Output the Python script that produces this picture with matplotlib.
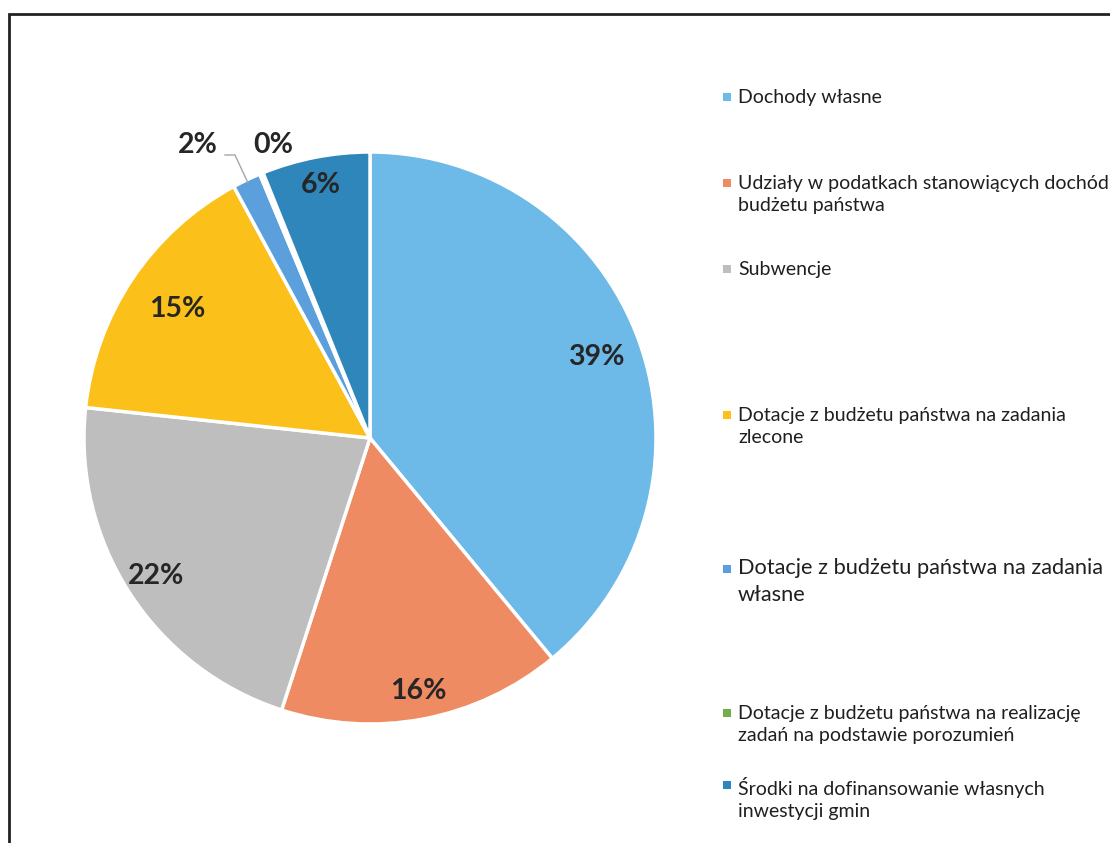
import numpy as np
import matplotlib
matplotlib.use("Agg")
import matplotlib.pyplot as plt
from matplotlib.patches import Rectangle

plt.rcParams["font.family"] = ["Lato", "DejaVu Sans"]

categories = [
    "Dochody własne",
    "Udziały w podatkach stanowiących dochód\nbudżetu państwa",
    "Subwencje",
    "Dotacje z budżetu państwa na zadania\nzlecone",
    "Dotacje z budżetu państwa na zadania\nwłasne",
    "Dotacje z budżetu państwa na realizację\nzadań na podstawie porozumień",
    "Środki na dofinansowanie własnych\ninwestycji gmin",
]
shares = [39.0, 16.0, 21.7, 15.4, 1.6, 0.2, 6.1]
colors = ["#6db9e8", "#ee8b63", "#bebebe", "#fbc019", "#5b9fdc", "#72ae4a", "#2f86ba"]

W, H = 1110, 843
fig = plt.figure(figsize=(W / 100, H / 100), dpi=100)

# pie centre / radius in pixels
cx, cy, R = 370, 438, 286
half = 320
ax = fig.add_axes([(cx - half) / W, (H - cy - half) / H, 2 * half / W, 2 * half / H])
wedges, _ = ax.pie(
    shares,
    colors=colors,
    startangle=90,
    counterclock=False,
    radius=1.0,
    wedgeprops=dict(edgecolor="white", linewidth=2.5),
)
lim = half / R
ax.set_xlim(-lim, lim)
ax.set_ylim(-lim, lim)
ax.axis("off")

# percentage labels (inside ones)
label_r = [0.84, 0.90, 0.89, 0.81, None, None, 0.90]
for w, v, r in zip(wedges, shares, label_r):
    if r is None:
        continue
    th = np.deg2rad((w.theta1 + w.theta2) / 2)
    ax.text(r * np.cos(th), r * np.sin(th), f"{round(v)}%", ha="center", va="center",
            fontsize=20.5, fontweight="bold", color="#262626")


# outside labels for the two tiny slices
def px(x, y):
    return (x - cx) / R, (cy - y) / R


ax.text(*px(198, 145), f"{round(shares[4])}%", ha="center", va="center",
        fontsize=20.5, fontweight="bold", color="#262626")
ax.text(*px(273, 145), f"{round(shares[5])}%", ha="center", va="center",
        fontsize=20.5, fontweight="bold", color="#262626")
th = np.deg2rad((wedges[4].theta1 + wedges[4].theta2) / 2)
p0, p1 = px(225, 155), px(235, 155)
ax.plot([p0[0], p1[0], 0.99 * np.cos(th)], [p0[1], p1[1], 0.99 * np.sin(th)],
        color="#a6a6a6", lw=1)

# legend drawn on the right (marker aligned with first text line)
leg_y = [97, 183, 269, 415, 569, 713, 785]
leg_fs = [14, 14, 14, 14, 15.7, 14, 14]
for name, col, yp, fs in zip(categories, colors, leg_y, leg_fs):
    fig.patches.append(Rectangle(((727 - 4) / W, (H - yp - 4) / H), 8 / W, 8 / H,
                                 transform=fig.transFigure, facecolor=col,
                                 edgecolor="none"))
    top = yp + 11 - fs * 100 / 72 * 0.99
    fig.text(738 / W, (H - top) / H, name, ha="left", va="top",
             fontsize=fs, color="#1f1f1f", linespacing=1.4)

# chart frame
fig.patches.append(Rectangle((9 / W, -0.05), 1.2, (H - 14) / H + 0.05,
                             transform=fig.transFigure, fill=False,
                             edgecolor="#222222", linewidth=2))

fig.savefig("out.png", dpi=100)
